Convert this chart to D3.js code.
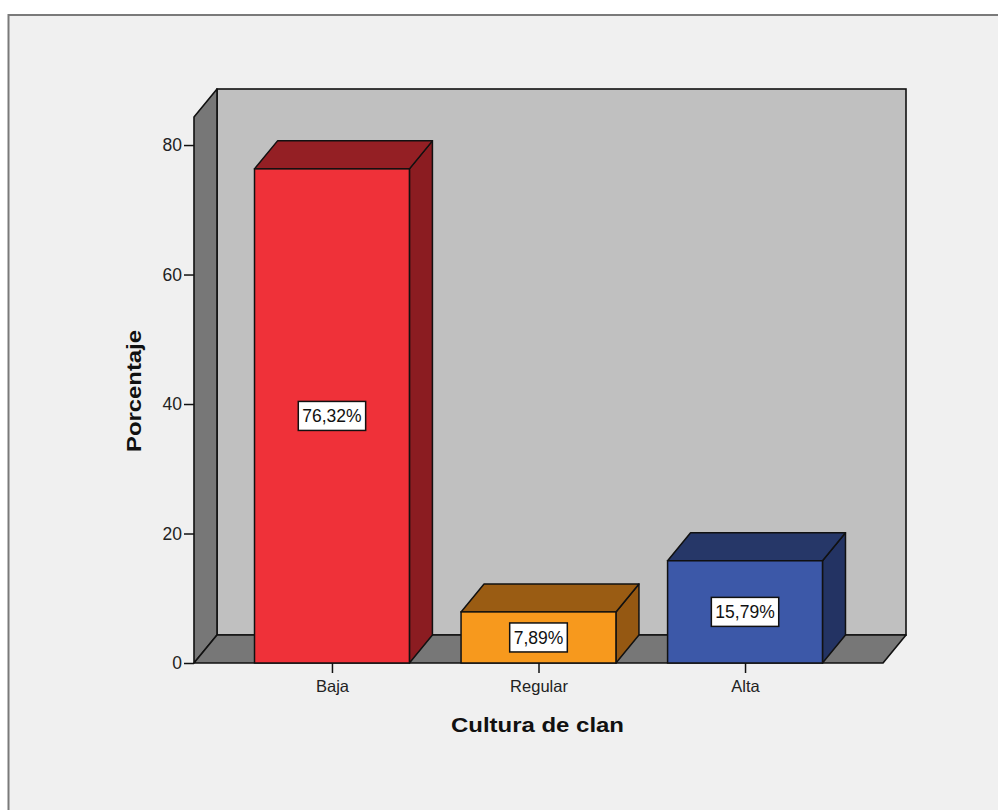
<!DOCTYPE html>
<html>
<head>
<meta charset="utf-8">
<script src="https://cdn.jsdelivr.net/npm/d3@7"></script>
<style>
  html, body { margin: 0; padding: 0; background: #ffffff; }
  svg { display: block; }
  text { font-family: "Liberation Sans", Arial, sans-serif; }
</style>
</head>
<body>
<svg id="chart" width="998" height="810"></svg>
<script>
// ---- data ----
const categories = ["Baja", "Regular", "Alta"];
const values = [76.32, 7.89, 15.79];
const valueLabels = ["76,32%", "7,89%", "15,79%"];
const yTicks = [0, 20, 40, 60, 80];
const frontColors = ["#ef3139", "#f7991d", "#3c58a8"];
const topColors = ["#941f24", "#9a5c13", "#263768"];
const sideColors = ["#8b1c21", "#955812", "#233363"];
const xTitle = "Cultura de clan";
const yTitle = "Porcentaje";

const svg = d3.select("#chart");
const W = 998, H = 810;

// outer frame
svg.append("rect").attr("x", 0).attr("y", 0).attr("width", W).attr("height", H).attr("fill", "#ffffff");
svg.append("rect").attr("x", 8.5).attr("y", 15).attr("width", W + 20).attr("height", H + 20)
  .attr("fill", "#f0f0f0").attr("stroke", "#7a7a7a").attr("stroke-width", 2);

// geometry
const x0 = 194, x1 = 883, y0 = 663;
const dx = 23, dy = 28;
const y = d3.scaleLinear().domain([0, 84.33]).range([y0, 117]);
const x = d3.scalePoint().domain(categories).range([x0, x1]).padding(0.668);
const bw = x.step() * 0.75;
const yTop = y.range()[1];

const g = svg.append("g");
const line = d3.line();

// back wall
g.append("rect").attr("x", x0 + dx).attr("y", yTop - dy).attr("width", x1 - x0).attr("height", y0 - yTop)
  .attr("fill", "#c0c0c0").attr("stroke", "#111").attr("stroke-width", 1.6);
// left wall
g.append("path").attr("d", line([[x0, y0], [x0, yTop], [x0 + dx, yTop - dy], [x0 + dx, y0 - dy]]) + "Z")
  .attr("fill", "#777777").attr("stroke", "#111").attr("stroke-width", 1.6).attr("stroke-linejoin", "round");
// floor
g.append("path").attr("d", line([[x0, y0], [x1, y0], [x1 + dx, y0 - dy], [x0 + dx, y0 - dy]]) + "Z")
  .attr("fill", "#777777").attr("stroke", "#111").attr("stroke-width", 1.6).attr("stroke-linejoin", "round");

// bars
categories.forEach((c, i) => {
  const cx = x(c);
  const l = cx - bw / 2, r = cx + bw / 2, t = y(values[i]);
  const bg = g.append("g");
  bg.append("path").attr("d", line([[r, t], [r, y0], [r + dx, y0 - dy], [r + dx, t - dy]]) + "Z")
    .attr("fill", sideColors[i]).attr("stroke", "#111").attr("stroke-width", 1.5).attr("stroke-linejoin", "round");
  bg.append("path").attr("d", line([[l, t], [r, t], [r + dx, t - dy], [l + dx, t - dy]]) + "Z")
    .attr("fill", topColors[i]).attr("stroke", "#111").attr("stroke-width", 1.5).attr("stroke-linejoin", "round");
  bg.append("rect").attr("x", l).attr("y", t).attr("width", bw).attr("height", y0 - t)
    .attr("fill", frontColors[i]).attr("stroke", "#111").attr("stroke-width", 1.5);

  // value label
  const my = (t + y0) / 2;
  const lab = bg.append("g");
  const txt = lab.append("text").attr("x", cx).attr("y", my).attr("text-anchor", "middle")
    .attr("dy", "0.36em").attr("font-size", 17.5).attr("fill", "#111").text(valueLabels[i]);
  const tw = txt.node().getComputedTextLength();
  lab.insert("rect", "text").attr("x", cx - tw / 2 - 4).attr("y", my - 14.5)
    .attr("width", tw + 8).attr("height", 29).attr("fill", "#ffffff").attr("stroke", "#111").attr("stroke-width", 1.5);
});

// y axis
const yAxis = d3.axisLeft(y).tickValues(yTicks).tickSize(10).tickPadding(2).tickFormat(d3.format("d"));
const ya = svg.append("g").attr("transform", `translate(${x0},0)`).call(yAxis);
ya.select(".domain").remove();
ya.selectAll(".tick line").attr("stroke", "#111").attr("stroke-width", 1.5);
ya.selectAll(".tick text").attr("font-family", "Liberation Sans, Arial, sans-serif").attr("font-size", 17.5).attr("fill", "#222");

// x axis
const xAxis = d3.axisBottom(x).tickSize(10).tickPadding(7);
const xa = svg.append("g").attr("transform", `translate(0,${y0})`).call(xAxis);
xa.select(".domain").remove();
xa.selectAll(".tick line").attr("stroke", "#111").attr("stroke-width", 1.5);
xa.selectAll(".tick text").attr("font-family", "Liberation Sans, Arial, sans-serif").attr("font-size", 16.5).attr("fill", "#222");

// titles
svg.append("text").attr("x", 537.5).attr("y", 732).attr("text-anchor", "middle")
  .attr("font-size", 21).attr("font-weight", "bold").attr("fill", "#111")
  .attr("textLength", 173).attr("lengthAdjust", "spacingAndGlyphs").text(xTitle);
svg.append("text").attr("transform", "translate(141,391) rotate(-90)").attr("text-anchor", "middle")
  .attr("font-size", 21).attr("font-weight", "bold").attr("fill", "#111")
  .attr("textLength", 122).attr("lengthAdjust", "spacingAndGlyphs").text(yTitle);
</script>
</body>
</html>
